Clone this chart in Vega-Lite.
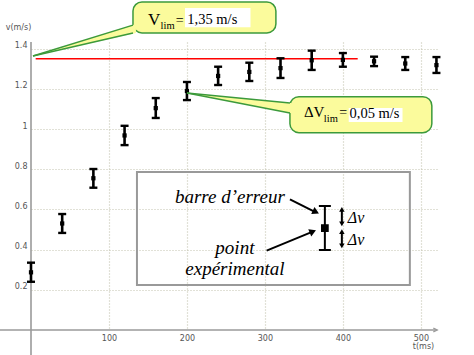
{
  "$schema": "https://vega.github.io/schema/vega-lite/v6.json",
  "autosize": {"type": "none"},
  "width": 407,
  "height": 288,
  "padding": {"left": 31, "top": 42, "right": 36, "bottom": 25},
  "background": "white",
  "config": {
    "view": {"stroke": null},
    "axis": {"labelFont": "DejaVu Sans", "titleFont": "DejaVu Sans", "labelColor": "#555555", "titleColor": "#555555", "labelFontSize": 8, "titleFontSize": 8, "titleFontWeight": "normal", "gridColor": "#c4c4b0", "gridDash": [1, 2], "gridWidth": 1.2, "domain": false, "ticks": false}
  },
  "datasets": {
    "pts": [
      {"t": 0, "v": 0.287, "lo": 0.240, "hi": 0.335},
      {"t": 40, "v": 0.530, "lo": 0.483, "hi": 0.577},
      {"t": 80, "v": 0.755, "lo": 0.708, "hi": 0.801},
      {"t": 120, "v": 0.968, "lo": 0.920, "hi": 1.016},
      {"t": 160, "v": 1.104, "lo": 1.055, "hi": 1.154},
      {"t": 200, "v": 1.189, "lo": 1.144, "hi": 1.234},
      {"t": 240, "v": 1.264, "lo": 1.219, "hi": 1.310},
      {"t": 280, "v": 1.284, "lo": 1.239, "hi": 1.330},
      {"t": 320, "v": 1.303, "lo": 1.254, "hi": 1.352},
      {"t": 360, "v": 1.342, "lo": 1.294, "hi": 1.390},
      {"t": 400, "v": 1.344, "lo": 1.310, "hi": 1.378},
      {"t": 440, "v": 1.337, "lo": 1.313, "hi": 1.360},
      {"t": 480, "v": 1.326, "lo": 1.294, "hi": 1.358},
      {"t": 520, "v": 1.318, "lo": 1.279, "hi": 1.358}
    ]
  },
  "layer": [
    {
      "data": {"values": [{"t": -40, "t2": 521, "v": 0, "v2": 0}, {"t": 0, "t2": 0, "v": -0.125, "v2": 1.433}]},
      "mark": {"type": "rule", "color": "#9a9a9a", "strokeWidth": 1.6},
      "encoding": {
        "x": {"field": "t", "type": "quantitative", "scale": {"domain": [0, 522], "nice": false, "zero": false},
              "axis": {"title": "t(ms)", "values": [100, 200, 300, 400, 500], "grid": true, "labelPadding": 4, "titleX": 392, "titleY": 16, "titleAlign": "center", "titleBaseline": "middle"}},
        "x2": {"field": "t2"},
        "y": {"field": "v", "type": "quantitative", "scale": {"domain": [0, 1.433], "nice": false, "zero": false},
              "axis": {"title": "v(m/s)", "values": [0.2, 0.4, 0.6, 0.8, 1, 1.2, 1.4], "format": ".1~f", "grid": true, "labelPadding": 4, "labelOffset": -3, "titleAngle": 0, "titleX": -13, "titleY": -15, "titleAlign": "center", "titleBaseline": "middle"}},
        "y2": {"field": "v2"}
      }
    },
    {
      "data": {"values": [{"t": 521, "v": 0}]},
      "mark": {"type": "point", "shape": "M-1,-0.5L0,0L-1,0.5", "filled": false, "color": "#9a9a9a", "strokeWidth": 1.3, "size": 60, "opacity": 1},
      "encoding": {"x": {"field": "t", "type": "quantitative"}, "y": {"field": "v", "type": "quantitative"}}
    },
    {
      "data": {"values": [{"t": 6, "t2": 419, "v": 1.35}]},
      "mark": {"type": "rule", "color": "#ff0000", "strokeWidth": 1.5},
      "encoding": {"x": {"field": "t", "type": "quantitative"}, "x2": {"field": "t2"}, "y": {"field": "v", "type": "quantitative"}}
    },
    {
      "data": {"name": "pts"},
      "mark": {"type": "rule", "color": "black", "strokeWidth": 2.6},
      "encoding": {"x": {"field": "t", "type": "quantitative"}, "y": {"field": "lo", "type": "quantitative"}, "y2": {"field": "hi"}}
    },
    {
      "data": {"name": "pts"},
      "mark": {"type": "tick", "orient": "horizontal", "color": "black", "size": 8, "thickness": 2.4, "opacity": 1},
      "encoding": {"x": {"field": "t", "type": "quantitative"}, "y": {"field": "lo", "type": "quantitative"}}
    },
    {
      "data": {"name": "pts"},
      "mark": {"type": "tick", "orient": "horizontal", "color": "black", "size": 8, "thickness": 2.4, "opacity": 1},
      "encoding": {"x": {"field": "t", "type": "quantitative"}, "y": {"field": "hi", "type": "quantitative"}}
    },
    {
      "data": {"name": "pts"},
      "mark": {"type": "point", "shape": "square", "filled": true, "color": "black", "size": 18, "opacity": 1},
      "encoding": {"x": {"field": "t", "type": "quantitative"}, "y": {"field": "v", "type": "quantitative"}}
    },
    {
      "data": {"values": [{"t": 130.8, "t2": 314.1, "v": 1.632, "v2": 1.478}, {"t": 332.1, "t2": 514.1, "v": 1.161, "v2": 0.982}]},
      "mark": {"type": "rect", "fill": "#fbfb9c", "stroke": "#3c9a3c", "strokeWidth": 1.5, "cornerRadius": 9},
      "encoding": {"x": {"field": "t", "type": "quantitative"}, "x2": {"field": "t2"}, "y": {"field": "v", "type": "quantitative"}, "y2": {"field": "v2"}}
    },
    {
      "data": {"values": [
        {"id": 1, "t": 2.56, "v": 1.363, "v2": 1.363},
        {"id": 1, "t": 134.6, "v": 1.522, "v2": 1.478},
        {"id": 2, "t": 200, "v": 1.179, "v2": 1.179},
        {"id": 2, "t": 335.9, "v": 1.128, "v2": 1.077}
      ]},
      "mark": {"type": "area", "fill": "#fbfb9c", "opacity": 1},
      "encoding": {"x": {"field": "t", "type": "quantitative"}, "y": {"field": "v", "type": "quantitative", "stack": null}, "y2": {"field": "v2"}, "detail": {"field": "id"}}
    },
    {
      "data": {"values": [
        {"t": 2.56, "v": 1.363, "t2": 130.8, "v2": 1.517},
        {"t": 2.56, "v": 1.363, "t2": 130.8, "v2": 1.478},
        {"t": 200, "v": 1.179, "t2": 332.1, "v2": 1.129},
        {"t": 200, "v": 1.179, "t2": 332.1, "v2": 1.080}
      ]},
      "mark": {"type": "rule", "color": "#3c9a3c", "strokeWidth": 1.5},
      "encoding": {"x": {"field": "t", "type": "quantitative"}, "x2": {"field": "t2"}, "y": {"field": "v", "type": "quantitative"}, "y2": {"field": "v2"}}
    },
    {
      "data": {"values": [{"t": 197.5, "t2": 281.5, "v": 1.602, "v2": 1.507}, {"t": 407.5, "t2": 476.5, "v": 1.1045, "v2": 1.0348}]},
      "mark": {"type": "rect", "fill": "white"},
      "encoding": {"x": {"field": "t", "type": "quantitative"}, "x2": {"field": "t2"}, "y": {"field": "v", "type": "quantitative"}, "y2": {"field": "v2"}}
    },
    {
      "data": {"values": [{"t": 150, "v": 1.517, "label": "V"}]},
      "mark": {"type": "text", "font": "Liberation Serif", "fontSize": 17, "align": "left", "baseline": "alphabetic", "color": "black"},
      "encoding": {"x": {"field": "t", "type": "quantitative"}, "y": {"field": "v", "type": "quantitative"}, "text": {"field": "label"}}
    },
    {
      "data": {"values": [{"t": 350, "v": 1.060, "label": "ΔV"}]},
      "mark": {"type": "text", "font": "Liberation Serif", "fontSize": 15, "align": "left", "baseline": "alphabetic", "color": "black"},
      "encoding": {"x": {"field": "t", "type": "quantitative"}, "y": {"field": "v", "type": "quantitative"}, "text": {"field": "label"}}
    },
    {
      "data": {"values": [{"t": 166.2, "v": 1.500, "label": "lim"}, {"t": 375.6, "v": 1.035, "label": "lim"}]},
      "mark": {"type": "text", "font": "Liberation Serif", "fontSize": 10.5, "align": "left", "baseline": "alphabetic", "color": "black"},
      "encoding": {"x": {"field": "t", "type": "quantitative"}, "y": {"field": "v", "type": "quantitative"}, "text": {"field": "label"}}
    },
    {
      "data": {"values": [{"t": 185.5, "v": 1.517, "label": "="}, {"t": 395.5, "v": 1.060, "label": "="}]},
      "mark": {"type": "text", "font": "Liberation Serif", "fontSize": 14, "align": "left", "baseline": "alphabetic", "color": "black"},
      "encoding": {"x": {"field": "t", "type": "quantitative"}, "y": {"field": "v", "type": "quantitative"}, "text": {"field": "label"}}
    },
    {
      "data": {"values": [{"t": 200.5, "v": 1.522, "label": "1,35 m/s"}, {"t": 408.5, "v": 1.0547, "label": "0,05 m/s"}]},
      "mark": {"type": "text", "font": "Liberation Serif", "fontSize": 14.5, "align": "left", "baseline": "alphabetic", "color": "black"},
      "encoding": {"x": {"field": "t", "type": "quantitative"}, "y": {"field": "v", "type": "quantitative"}, "text": {"field": "label"}}
    },
    {
      "data": {"values": [{"t": 135.9, "t2": 485.9, "v": 0.786, "v2": 0.224}]},
      "mark": {"type": "rect", "fill": null, "fillOpacity": 0, "stroke": "#999999", "strokeWidth": 2},
      "encoding": {"x": {"field": "t", "type": "quantitative"}, "x2": {"field": "t2"}, "y": {"field": "v", "type": "quantitative"}, "y2": {"field": "v2"}}
    },
    {
      "data": {"values": [{"t": 184.6, "v": 0.632, "label": "barre d’erreur"}]},
      "mark": {"type": "text", "font": "Liberation Serif", "fontStyle": "italic", "fontSize": 19, "align": "left", "baseline": "alphabetic", "color": "black"},
      "encoding": {"x": {"field": "t", "type": "quantitative"}, "y": {"field": "v", "type": "quantitative"}, "text": {"field": "label"}}
    },
    {
      "data": {"values": [{"t": 261.5, "v": 0.378, "label": "point"}, {"t": 261.5, "v": 0.274, "label": "expérimental"}]},
      "mark": {"type": "text", "font": "Liberation Serif", "fontStyle": "italic", "fontSize": 19, "align": "center", "baseline": "alphabetic", "color": "black"},
      "encoding": {"x": {"field": "t", "type": "quantitative"}, "y": {"field": "v", "type": "quantitative"}, "text": {"field": "label"}}
    },
    {
      "data": {"values": [
        {"t": 332.1, "v": 0.650, "t2": 362.8, "v2": 0.590},
        {"t": 302.2, "v": 0.395, "t2": 359.0, "v2": 0.486},
        {"t": 376.9, "v": 0.617, "t2": 376.9, "v2": 0.398},
        {"t": 369.2, "v": 0.617, "t2": 384.6, "v2": 0.617},
        {"t": 369.2, "v": 0.398, "t2": 384.6, "v2": 0.398},
        {"t": 398.7, "v": 0.597, "t2": 398.7, "v2": 0.532},
        {"t": 398.7, "v": 0.488, "t2": 398.7, "v2": 0.420}
      ]},
      "mark": {"type": "rule", "color": "black", "strokeWidth": 2},
      "encoding": {"x": {"field": "t", "type": "quantitative"}, "x2": {"field": "t2"}, "y": {"field": "v", "type": "quantitative"}, "y2": {"field": "v2"}}
    },
    {
      "data": {"values": [{"t": 365.4, "v": 0.587}]},
      "mark": {"type": "point", "shape": "triangle-right", "filled": true, "color": "black", "size": 60, "angle": 25, "opacity": 1},
      "encoding": {"x": {"field": "t", "type": "quantitative"}, "y": {"field": "v", "type": "quantitative"}}
    },
    {
      "data": {"values": [{"t": 361.5, "v": 0.490}]},
      "mark": {"type": "point", "shape": "triangle-right", "filled": true, "color": "black", "size": 60, "angle": -23, "opacity": 1},
      "encoding": {"x": {"field": "t", "type": "quantitative"}, "y": {"field": "v", "type": "quantitative"}}
    },
    {
      "data": {"values": [{"t": 376.9, "v": 0.507}]},
      "mark": {"type": "point", "shape": "square", "filled": true, "color": "black", "size": 60, "opacity": 1},
      "encoding": {"x": {"field": "t", "type": "quantitative"}, "y": {"field": "v", "type": "quantitative"}}
    },
    {
      "data": {"values": [{"t": 398.7, "v": 0.600}, {"t": 398.7, "v": 0.490}]},
      "mark": {"type": "point", "shape": "triangle-up", "filled": true, "color": "black", "size": 30, "opacity": 1},
      "encoding": {"x": {"field": "t", "type": "quantitative"}, "y": {"field": "v", "type": "quantitative"}}
    },
    {
      "data": {"values": [{"t": 398.7, "v": 0.528}, {"t": 398.7, "v": 0.418}]},
      "mark": {"type": "point", "shape": "triangle-down", "filled": true, "color": "black", "size": 30, "opacity": 1},
      "encoding": {"x": {"field": "t", "type": "quantitative"}, "y": {"field": "v", "type": "quantitative"}}
    },
    {
      "data": {"values": [{"t": 406.4, "v": 0.532, "label": "Δv"}, {"t": 406.4, "v": 0.423, "label": "Δv"}]},
      "mark": {"type": "text", "font": "Liberation Serif", "fontStyle": "italic", "fontSize": 16, "align": "left", "baseline": "alphabetic", "color": "black"},
      "encoding": {"x": {"field": "t", "type": "quantitative"}, "y": {"field": "v", "type": "quantitative"}, "text": {"field": "label"}}
    }
  ]
}
